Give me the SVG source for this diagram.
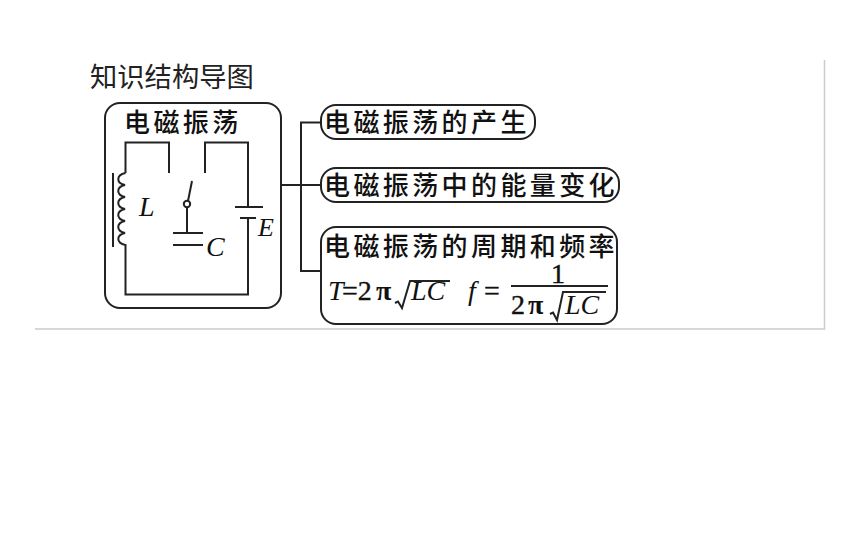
<svg xmlns="http://www.w3.org/2000/svg" width="860" height="537" viewBox="0 0 860 537">
<style>
.box{fill:#fff;stroke:#222;stroke-width:2}
.w{fill:none;stroke:#222;stroke-width:2}
.cn{font-family:"Noto Sans CJK SC","Noto Sans CJK JP",sans-serif;font-size:26px;font-weight:500;fill:#111;letter-spacing:3.4px}
.it{font-family:"Liberation Serif",serif;font-style:italic;font-size:28px;fill:#111}
.up{font-family:"Liberation Serif",serif;font-size:28px;fill:#111;stroke:#111;stroke-width:.4px}
.pi{font-family:"Liberation Serif",serif;font-size:28px;font-weight:bold;fill:#111}
</style>
<rect width="860" height="537" fill="#fff"/>
<g id="frame" fill="none" stroke="#ccc" stroke-width="1.5"><path d="M35 329H824.500V60"/></g>
<g id="title"><text x="90" y="87" font-family="'Noto Sans CJK SC','Noto Sans CJK JP',sans-serif" font-size="27.300" fill="#222">知识结构导图</text></g>
<g id="connectors" class="w">
<path d="M281 185H321M321 122.500H301V271H321"/>
</g>
<g id="circuit-node">
<rect class="box" x="105" y="103" width="176" height="205" rx="15"/>
<text class="cn" x="124" y="132" style="letter-spacing:3.400px">电磁振荡</text>
<path class="w" d="M169 173V142.500H125.500V173M125.500 173C116 175 116 183 125 185C116 187 116 195 125 197C116 199 116 207 125 209C116 211 116 219 125 221C116 223 116 231 125 233C116 235 116 243 125.500 245V294.500H248V218M248 207V142.500H205V173"/>
<path class="w" d="M113 173V247"/>
<path class="w" d="M235 207H263M240 218H256"/>
<circle class="w" cx="187" cy="204" r="3.200"/>
<path class="w" d="M188 201L192 181M187 207V233M173 233H203M173 245H203"/>
<text class="it" x="139" y="216">L</text>
<text class="it" x="206" y="256">C</text>
<text class="it" x="258" y="236" style="font-size:26px">E</text>
</g>
<g id="node-origin">
<rect class="box" x="321" y="105" width="214" height="34" rx="15"/>
<text class="cn" x="324" y="132">电磁振荡的产生</text>
</g>
<g id="node-energy">
<rect class="box" x="321" y="168" width="298" height="34" rx="15"/>
<text class="cn" x="324" y="195">电磁振荡中的能量变化</text>
</g>
<g id="node-period">
<rect class="box" x="321" y="227" width="296" height="97" rx="15"/>
<text class="cn" x="324" y="256">电磁振荡的周期和频率</text>
<text class="it" x="328" y="300">T</text>
<text class="up" x="342" y="300">=2</text>
<text class="pi" x="376" y="300">π</text>
<path class="w" d="M395 303L398 301.500L402 308L410 281H450" stroke-width="1.600"/>
<text class="it" x="411" y="300">LC</text>
<text class="it" x="468" y="300">f</text>
<text class="up" x="484" y="300">=</text>
<text class="up" x="551" y="283">1</text>
<path class="w" d="M511 286H608"/>
<text class="up" x="511" y="314">2</text>
<text class="pi" x="528" y="314">π</text>
<path class="w" d="M550 314L553 312.500L557 320L563 292H606" stroke-width="1.600"/>
<text class="it" x="565" y="314">LC</text>
</g>
</svg>
